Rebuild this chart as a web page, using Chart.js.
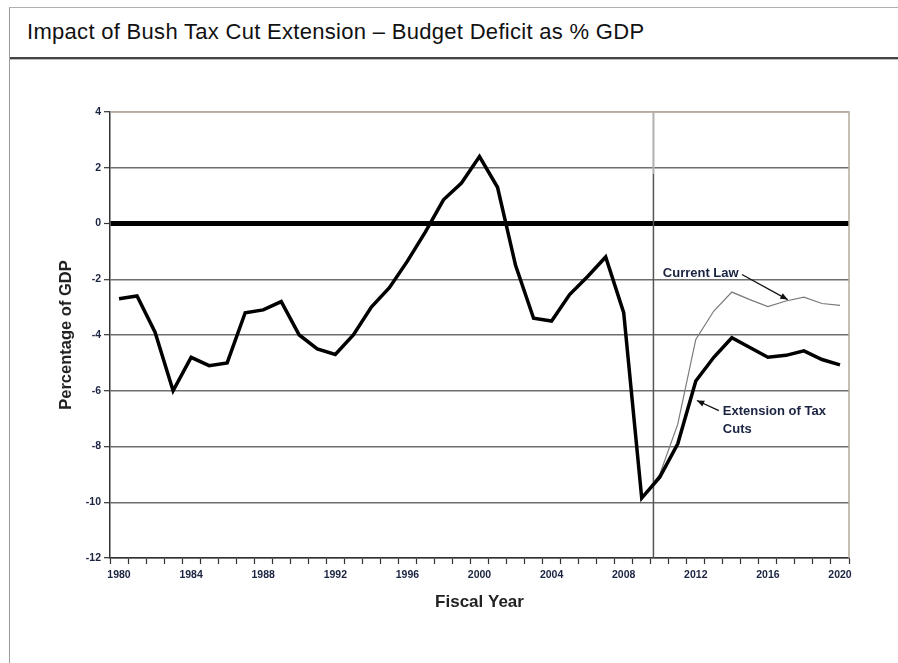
<!DOCTYPE html>
<html>
<head>
<meta charset="utf-8">
<script src="https://cdn.jsdelivr.net/npm/chart.js@4.4.0/dist/chart.umd.min.js"></script>
<style>
  html, body { margin: 0; padding: 0; background: #fff; }
  body { width: 898px; height: 663px; position: relative; overflow: hidden;
         font-family: Arial, "Liberation Sans", sans-serif; }
  #frame { position: absolute; left: 9px; top: 7px; right: -2px; bottom: -2px;
           border-left: 1px solid #9a9a9a; border-top: 1px solid #b0b0b0; }
  #title { position: absolute; left: 27px; top: 19px; font-size: 22px; color: #111;
           letter-spacing: 0.3px; white-space: nowrap; }
  #sep { position: absolute; left: 10px; right: 0; top: 57px; height: 0;
         border-top: 2px solid #444; border-bottom: 1px solid #bbb; }
  #wrap { position: absolute; left: 0; top: 0; width: 898px; height: 663px; }
</style>
</head>
<body>
<div id="frame"></div>
<div id="title">Impact of Bush Tax Cut Extension &ndash; Budget Deficit as % GDP</div>
<div id="sep"></div>
<div id="wrap"><canvas id="deficitChart" width="898" height="663"></canvas></div>
<script>
'use strict';

// fiscal years shown on the x axis
var years = [];
for (var y = 1980; y <= 2020; y++) years.push(String(y));

// budget deficit as % of GDP, history plus the extension-of-tax-cuts path
var extensionOfTaxCuts = [
  -2.7, -2.6, -3.9, -6.0, -4.8, -5.1, -5.0, -3.2, -3.1, -2.8,
  -4.0, -4.5, -4.7, -4.0, -3.0, -2.3, -1.35, -0.3, 0.85, 1.45,
  2.4, 1.3, -1.5, -3.4, -3.5, -2.55, -1.9, -1.2, -3.2, -9.85,
  -9.1, -7.9, -5.65, -4.8, -4.1, -4.45, -4.8, -4.73, -4.57, -4.88,
  -5.07
];

// current law projection (starts from 2009)
var currentLaw = [
  null, null, null, null, null, null, null, null, null, null,
  null, null, null, null, null, null, null, null, null, null,
  null, null, null, null, null, null, null, null, null, -9.85,
  -9.0, -7.2, -4.16, -3.14, -2.46, -2.73, -2.98, -2.78, -2.64, -2.87,
  -2.94
];

var yTicks = [4, 2, 0, -2, -4, -6, -8, -10, -12];
var xLabelEvery = 4;

var labelColor = '#1a2340';
var fontFamily = 'Arial, "Liberation Sans", sans-serif';

var arrow = function(ctx, x1, y1, x2, y2) {
  var a = Math.atan2(y2 - y1, x2 - x1);
  ctx.beginPath();
  ctx.moveTo(x1, y1);
  ctx.lineTo(x2, y2);
  ctx.stroke();
  ctx.beginPath();
  ctx.moveTo(x2, y2);
  ctx.lineTo(x2 - 8 * Math.cos(a - 0.4), y2 - 8 * Math.sin(a - 0.4));
  ctx.lineTo(x2 - 8 * Math.cos(a + 0.4), y2 - 8 * Math.sin(a + 0.4));
  ctx.closePath();
  ctx.fill();
};

var extrasPlugin = {
  id: 'extras',
  beforeDatasetsDraw: function(chart) {
    var ctx = chart.ctx, a = chart.chartArea, xs = chart.scales.x;
    ctx.save();
    // brownish plot frame on top and right
    ctx.strokeStyle = '#b7aa9c';
    ctx.lineWidth = 1.5;
    ctx.beginPath();
    ctx.moveTo(a.left, a.top);
    ctx.lineTo(a.right, a.top);
    ctx.lineTo(a.right, a.bottom);
    ctx.stroke();
    // vertical divider between actual and projected years
    var vx = xs.getPixelForValue(29.65);
    ctx.strokeStyle = '#b0b0b0';
    ctx.lineWidth = 2;
    ctx.beginPath();
    ctx.moveTo(vx, a.top);
    ctx.lineTo(vx, a.top + 62);
    ctx.stroke();
    ctx.strokeStyle = '#555';
    ctx.lineWidth = 1.5;
    ctx.beginPath();
    ctx.moveTo(vx, a.top + 62);
    ctx.lineTo(vx, a.bottom);
    ctx.stroke();
    ctx.restore();
  },
  afterDatasetsDraw: function(chart) {
    var ctx = chart.ctx, xs = chart.scales.x, ys = chart.scales.y;
    ctx.save();
    ctx.fillStyle = labelColor;
    ctx.font = 'bold 13px ' + fontFamily;
    ctx.textBaseline = 'middle';
    ctx.textAlign = 'left';
    ctx.fillText('Current Law', xs.getPixelForValue(30.17), ys.getPixelForValue(-1.79));
    ctx.fillText('Extension of Tax', xs.getPixelForValue(33.5), ys.getPixelForValue(-6.74));
    ctx.fillText('Cuts', xs.getPixelForValue(33.5), ys.getPixelForValue(-7.38));
    ctx.strokeStyle = '#111';
    ctx.fillStyle = '#111';
    ctx.lineWidth = 1.3;
    arrow(ctx, xs.getPixelForValue(34.56), ys.getPixelForValue(-1.83),
               xs.getPixelForValue(37.1), ys.getPixelForValue(-2.73));
    arrow(ctx, xs.getPixelForValue(33.28), ys.getPixelForValue(-6.71),
               xs.getPixelForValue(32.06), ys.getPixelForValue(-6.35));
    ctx.restore();
  }
};

var ctx = document.getElementById('deficitChart').getContext('2d');
var deficitChart = new Chart(ctx, {
  type: 'line',
  data: {
    labels: years,
    datasets: [
      {
        label: 'Extension of Tax Cuts',
        data: extensionOfTaxCuts,
        borderColor: '#000',
        borderWidth: 3.5,
        pointRadius: 0,
        tension: 0,
        borderJoinStyle: 'miter'
      },
      {
        label: 'Current Law',
        data: currentLaw,
        borderColor: '#7a7a7a',
        borderWidth: 1.2,
        pointRadius: 0,
        tension: 0,
        spanGaps: false
      }
    ]
  },
  options: {
    responsive: false,
    animation: false,
    events: [],
    layout: { padding: { top: 112, right: 49, left: 0, bottom: 0 } },
    plugins: {
      legend: { display: false },
      tooltip: { enabled: false }
    },
    scales: {
      x: {
        type: 'category',
        offset: true,
        afterFit: function(scale) { scale.height = 105; },
        grid: {
          offset: true,
          drawOnChartArea: false,
          drawTicks: true,
          tickLength: 6,
          tickColor: '#333',
          tickWidth: 1.2
        },
        border: { color: '#333', width: 1.5 },
        ticks: {
          autoSkip: false,
          maxRotation: 0,
          padding: 5,
          color: labelColor,
          font: { family: fontFamily, size: 10.5, weight: 'bold' },
          callback: function(val, i) {
            return (i % xLabelEvery === 0) ? years[i] : '';
          }
        },
        title: {
          display: true,
          text: 'Fiscal Year',
          color: '#222',
          font: { family: fontFamily, size: 17, weight: 'bold' },
          padding: { top: 0, bottom: 50 }
        }
      },
      y: {
        min: -12,
        max: 4,
        afterFit: function(scale) { scale.width = 110; },
        afterBuildTicks: function(scale) {
          scale.ticks = yTicks.map(function(v) { return { value: v }; });
        },
        grid: {
          color: function(c) {
            if (c.tick && c.tick.value === 0) return '#000';
            if (c.tick && c.tick.value === 4) return '#b7aa9c';
            return '#6e6e6e';
          },
          lineWidth: function(c) {
            return (c.tick && c.tick.value === 0) ? 5 : 1.4;
          },
          tickLength: 6,
          tickColor: '#333',
          tickWidth: 1.2
        },
        border: { color: '#333', width: 1.5 },
        ticks: {
          padding: 3,
          color: labelColor,
          font: { family: fontFamily, size: 10.5, weight: 'bold' }
        },
        title: {
          display: true,
          text: 'Percentage of GDP',
          color: '#222',
          font: { family: fontFamily, size: 16.5, weight: 'bold' },
          padding: { top: 57, bottom: 0 }
        }
      }
    }
  },
  plugins: [extrasPlugin]
});
</script>
</body>
</html>
